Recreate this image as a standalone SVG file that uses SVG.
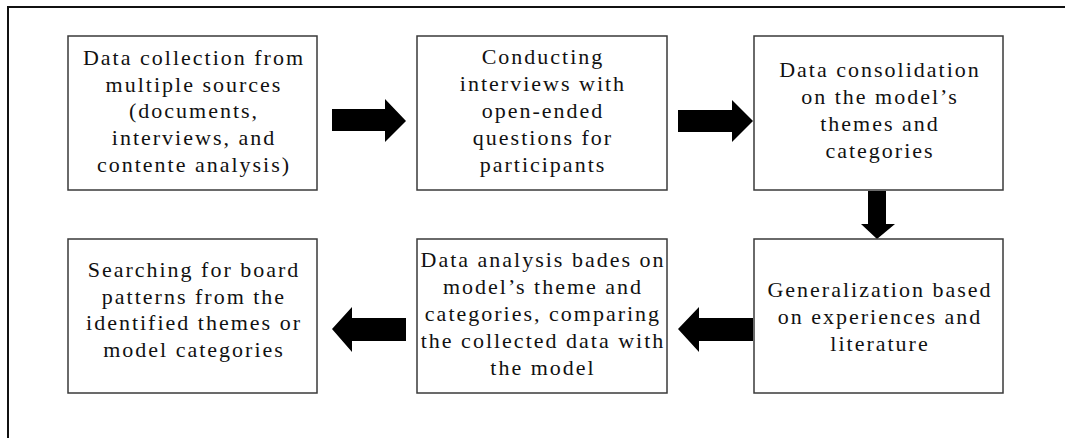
<svg xmlns="http://www.w3.org/2000/svg" width="1065" height="438" viewBox="0 0 1065 438">
<style>
.box{fill:#fff;stroke:#3a3a3a;stroke-width:1.5}
.t{font-family:"Liberation Serif",serif;font-size:22px;letter-spacing:2px;text-anchor:middle;fill:#111}
.arr{fill:#000}
</style>
<rect width="1065" height="438" fill="#fff"/>
<path d="M8,438 V7 H1065" fill="none" stroke="#111" stroke-width="2"/>
<g id="connectors">
<polygon class="arr" points="332,109 385,109 385,99 406,121 385,142 385,131 332,131"/>
<polygon class="arr" points="678,110 732,110 732,100 753,121 732,142 732,132 678,132"/>
<polygon class="arr" points="868,191 886,191 886,224 895,224 877,239 861,224 868,224"/>
<polygon class="arr" points="753,318 699,318 699,307 678,329 699,352 699,341 753,341"/>
<polygon class="arr" points="406,318 352,318 352,307 332,329 352,352 352,341 406,341"/>
</g>
<g id="n1">
<rect class="box" x="68" y="36" width="249" height="154"/>
<text class="t" x="194" y="65">Data collection from</text>
<text class="t" x="194" y="92">multiple sources</text>
<text class="t" x="194" y="118">(documents,</text>
<text class="t" x="194" y="145">interviews, and</text>
<text class="t" x="194" y="172">contente analysis)</text>
</g>
<g id="n2">
<rect class="box" x="417" y="36" width="250" height="154"/>
<text class="t" x="543" y="64">Conducting</text>
<text class="t" x="543" y="91">interviews with</text>
<text class="t" x="543" y="118">open-ended</text>
<text class="t" x="543" y="145">questions for</text>
<text class="t" x="543" y="172">participants</text>
</g>
<g id="n3">
<rect class="box" x="754" y="36" width="249" height="154"/>
<text class="t" x="880" y="77">Data consolidation</text>
<text class="t" x="880" y="104">on the model’s</text>
<text class="t" x="880" y="131">themes and</text>
<text class="t" x="880" y="158">categories</text>
</g>
<g id="n4">
<rect class="box" x="754" y="239" width="249" height="154"/>
<text class="t" x="880" y="297">Generalization based</text>
<text class="t" x="880" y="324">on experiences and</text>
<text class="t" x="880" y="351">literature</text>
</g>
<g id="n5">
<rect class="box" x="417" y="239" width="250" height="154"/>
<text class="t" x="543" y="267">Data analysis bades on</text>
<text class="t" x="543" y="294">model’s theme and</text>
<text class="t" x="543" y="321">categories, comparing</text>
<text class="t" x="543" y="348">the collected data with</text>
<text class="t" x="543" y="375">the model</text>
</g>
<g id="n6">
<rect class="box" x="68" y="239" width="249" height="154"/>
<text class="t" x="194" y="277">Searching for board</text>
<text class="t" x="194" y="304">patterns from the</text>
<text class="t" x="194" y="330">identified themes or</text>
<text class="t" x="194" y="357">model categories</text>
</g>
</svg>
